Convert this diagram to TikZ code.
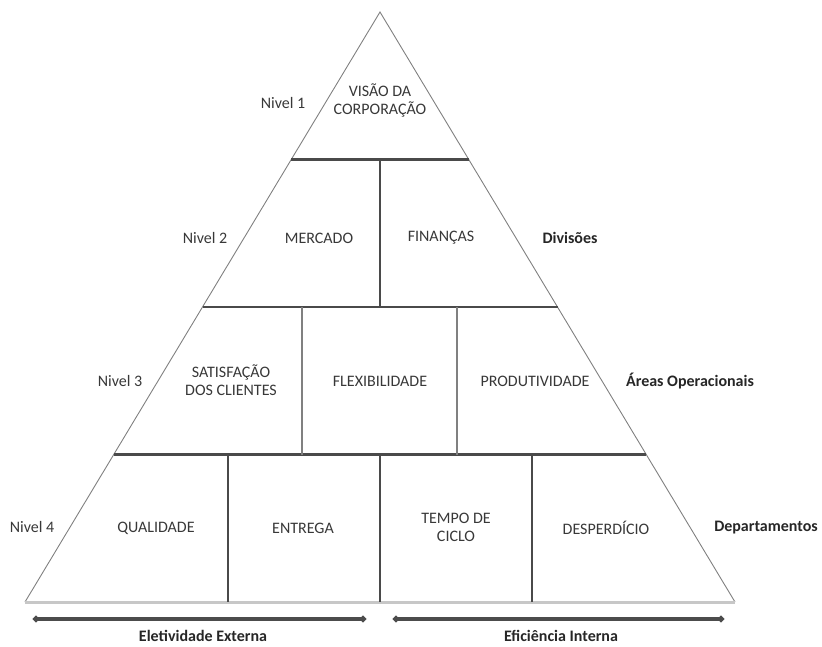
\documentclass[tikz,border=0pt]{standalone}
\usepackage{fontspec}
\setmainfont{Carlito}
\usetikzlibrary{calc, arrows.meta}
\definecolor{texto}{HTML}{383838}
\definecolor{linha}{HTML}{4A4A4A}

\begin{document}
\begin{tikzpicture}[x=1pt, y=-1pt, font=\fontsize{16}{18}\selectfont,
  rotulo/.style={text=texto, align=center},
  nivel/.style={text=texto},
  grupo/.style={font=\fontsize{16}{18}\selectfont\bfseries, text=black!85},
  divisao/.style={draw=linha, line width=1.1pt},
  faixa/.style={draw=linha, line width=2.2pt},
  barra/.style={draw=black!70, line width=3.2pt, {Circle[length=6pt]}-{Circle[length=6pt]}}]
  \useasboundingbox (0,0) rectangle (822,646);

  % Desenhando o triângulo
  \coordinate (topo) at (380,12);
  \coordinate (be) at (25,602);
  \coordinate (bd) at (735,602);
  \draw[gray, line width=0.9pt] (be) -- (topo) -- (bd);
  \draw[black!22, line width=3pt] (be) -- (bd);

  % Faixas dos níveis
  \foreach \t [count=\i] in {0.25, 0.5, 0.75} {
    \coordinate (e\i) at ($(topo)!\t!(be)$);
    \coordinate (d\i) at ($(topo)!\t!(bd)$);
    \draw[faixa] (e\i) -- (d\i);
  }

  % Divisões verticais
  \draw[divisao] (380,159.5) -- (380,307);
  \foreach \x in {302, 457}
    \draw[divisao, draw=gray] (\x,307) -- (\x,454.5);
  \foreach \x in {228, 380, 532}
    \draw[divisao] (\x,454.5) -- (\x,602);

  % Nível 1
  \node[nivel] (n1) at (283,103) {Nivel 1};
  \node[rotulo] (visao) at (380,100) {VISÃO DA\\CORPORAÇÃO};

  % Nível 2
  \node[nivel] (n2) at (205,238) {Nivel 2};
  \node[rotulo] (mercado) at (319,238) {MERCADO};
  \node[rotulo] (financas) at (441,238) {FINANÇAS};
  \node[grupo] (divisoes) at (570,238) {Divisões};

  % Nível 3
  \node[nivel] (n3) at (120,381) {Nivel 3};
  \node[rotulo] (satisfacao) at (231,380) {SATISFAÇÃO\\DOS CLIENTES};
  \node[rotulo] (flex) at (380,381) {FLEXIBILIDADE};
  \node[rotulo] (produt) at (535,381) {PRODUTIVIDADE};
  \node[grupo] (areas) at (690,381) {Áreas Operacionais};

  % Nível 4
  \node[nivel] (n4) at (32,527) {Nivel 4};
  \node[rotulo] (qualidade) at (156,528) {QUALIDADE};
  \node[rotulo] (entrega) at (303,528) {ENTREGA};
  \node[rotulo] (tempo) at (456,527) {TEMPO DE\\CICLO};
  \node[rotulo] (desperdicio) at (606,528) {DESPERDÍCIO};
  \node[grupo] (deptos) at (766,528) {Departamentos};

  % Barras de eficácia
  \coordinate (ee-a) at (33,619);
  \coordinate (ee-b) at (366,619);
  \coordinate (ei-a) at (393,619);
  \coordinate (ei-b) at (724,619);
  \draw[barra] (ee-a) -- (ee-b);
  \draw[barra] (ei-a) -- (ei-b);
  \node[grupo] (externa) at (203,636) {Eletividade Externa};
  \node[grupo] (interna) at (561,636) {Eficiência Interna};
\end{tikzpicture}
\end{document}
